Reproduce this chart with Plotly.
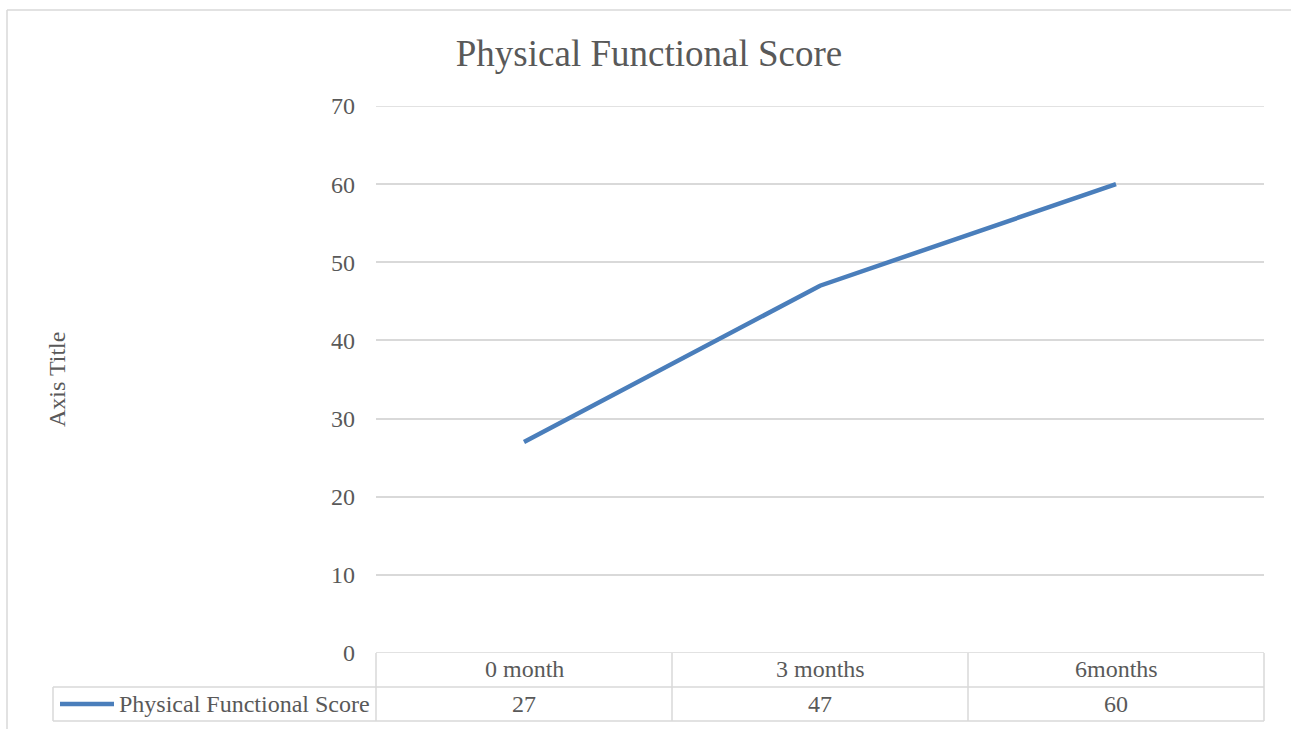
import plotly.graph_objects as go

categories = ["0 month", "3 months", "6months"]
series_name = "Physical Functional Score"
values = [27, 47, 60]
y_ticks = [0, 10, 20, 30, 40, 50, 60, 70]

W, H = 1291, 729
FONT = "Liberation Serif, Times New Roman, serif"
TXT = "#595959"
GRID = "#d9d9d9"
LINE = "#4a7ebb"

def px(x):
    return x / W

def py(y):
    return 1 - y / H

PL, PR, PT, PB = 376, 1264, 106, 653

fig = go.Figure()
fig.add_trace(go.Scatter(
    x=list(range(len(categories))), y=values, mode="lines",
    line=dict(color=LINE, width=4.5), name=series_name, showlegend=False,
    hoverinfo="skip"))

shapes = []
def hline(x0, x1, y):
    shapes.append(dict(type="line", xref="paper", yref="paper",
                       x0=px(x0), x1=px(x1), y0=py(y), y1=py(y),
                       line=dict(color=GRID, width=1.5), layer="below"))
def vline(x, y0, y1):
    shapes.append(dict(type="line", xref="paper", yref="paper",
                       x0=px(x), x1=px(x), y0=py(y0), y1=py(y1),
                       line=dict(color=GRID, width=1.5), layer="below"))

# gridlines at the axis ends (plotly clips these)
for yv in (y_ticks[0], y_ticks[-1]):
    shapes.append(dict(type="line", xref="paper", yref="y",
                       x0=px(PL), x1=px(PR), y0=yv, y1=yv,
                       line=dict(color=GRID, width=1.5), layer="below"))

# outer chart border
hline(7, 1291, 10)
vline(7, 10, 729)
# data table
hline(53, PR, 687)
hline(53, PR, 721)
vline(53, 687, 721)
cell_w = (PR - PL) / len(categories)
for i in range(len(categories) + 1):
    vline(PL + i * cell_w, PB, 721)
# legend key
shapes.append(dict(type="line", xref="paper", yref="paper",
                   x0=px(60), x1=px(114), y0=py(704), y1=py(704),
                   line=dict(color=LINE, width=4.5)))

annotations = []
for i, (c, v) in enumerate(zip(categories, values)):
    annotations.append(dict(x=i, xref="x", y=py(684), yref="paper", text=c,
                            showarrow=False, font=dict(family=FONT, size=24, color=TXT)))
    annotations.append(dict(x=i, xref="x", y=py(719), yref="paper", text=str(v),
                            showarrow=False, font=dict(family=FONT, size=24, color=TXT)))
annotations.append(dict(x=px(117), xref="paper", y=py(719), yref="paper", text=series_name,
                        xanchor="left", showarrow=False,
                        font=dict(family=FONT, size=24, color=TXT)))
annotations.append(dict(x=px(42), xref="paper", y=py(380), yref="paper", text="Axis Title",
                        textangle=-90, showarrow=False,
                        font=dict(family=FONT, size=24, color=TXT)))

fig.update_layout(
    width=W, height=H, autosize=False,
    margin=dict(l=0, r=0, t=0, b=0, autoexpand=False),
    paper_bgcolor="white", plot_bgcolor="white",
    title=dict(text="Physical Functional Score", x=px(649), xanchor="center",
               y=py(53), yanchor="middle",
               font=dict(family=FONT, size=37, color=TXT)),
    xaxis=dict(domain=[px(PL), px(PR)], range=[-0.5, len(categories) - 0.5],
               showgrid=False, zeroline=False, showticklabels=False, showline=False,
               fixedrange=True, automargin=False),
    yaxis=dict(domain=[py(PB), py(PT)], range=[y_ticks[0], y_ticks[-1]], tickvals=y_ticks,
               showgrid=True, gridcolor=GRID, gridwidth=1.5, zeroline=False,
               showline=False, ticks="", ticklabelstandoff=20, automargin=False,
               tickfont=dict(family=FONT, size=24, color=TXT), fixedrange=True),
    shapes=shapes, annotations=annotations, showlegend=False,
)

fig.write_html("out.html", config={"displayModeBar": False},
               post_script="document.body.style.margin='0';document.body.style.overflow='hidden';")
